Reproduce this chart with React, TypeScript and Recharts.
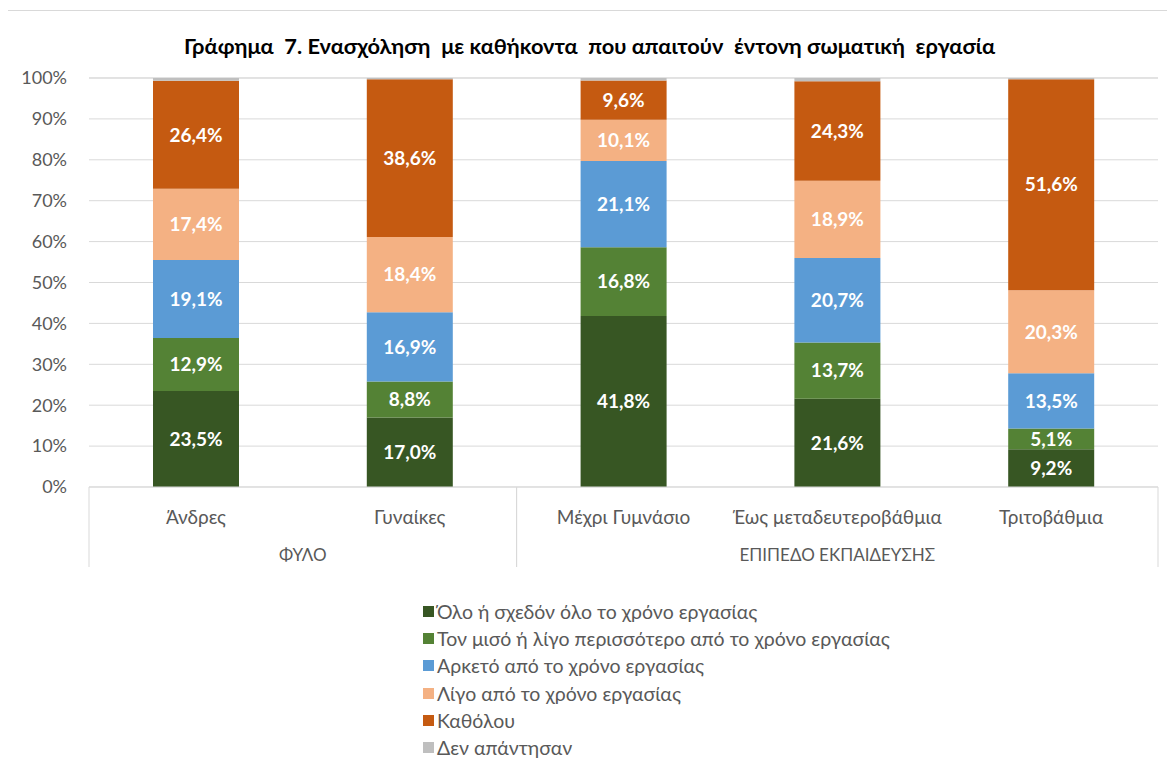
import { BarChart, Bar, XAxis, YAxis, CartesianGrid, Legend, LabelList } from 'recharts';

const categories = ['Άνδρες', 'Γυναίκες', 'Μέχρι Γυμνάσιο', 'Έως μεταδευτεροβάθμια', 'Τριτοβάθμια'];
const groups = ['ΦΥΛΟ', 'ΦΥΛΟ', 'ΕΠΙΠΕΔΟ ΕΚΠΑΙΔΕΥΣΗΣ', 'ΕΠΙΠΕΔΟ ΕΚΠΑΙΔΕΥΣΗΣ', 'ΕΠΙΠΕΔΟ ΕΚΠΑΙΔΕΥΣΗΣ'];

const allTime = [23.5, 17.0, 41.8, 21.6, 9.2];
const halfTime = [12.9, 8.8, 16.8, 13.7, 5.1];
const quiteTime = [19.1, 16.9, 21.1, 20.7, 13.5];
const littleTime = [17.4, 18.4, 10.1, 18.9, 20.3];
const never = [26.4, 38.6, 9.6, 24.3, 51.6];
const noAnswer = [0.7, 0.3, 0.6, 0.8, 0.3];

const yTicks = [0, 10, 20, 30, 40, 50, 60, 70, 80, 90, 100];

const series = [
  { key: 'allTime', name: 'Όλο ή σχεδόν όλο το χρόνο εργασίας', color: '#375623', values: allTime, label: true },
  { key: 'halfTime', name: 'Τον μισό ή λίγο περισσότερο από το χρόνο εργασίας', color: '#548235', values: halfTime, label: true },
  { key: 'quiteTime', name: 'Αρκετό από το χρόνο εργασίας', color: '#5B9BD5', values: quiteTime, label: true },
  { key: 'littleTime', name: 'Λίγο από το χρόνο εργασίας', color: '#F4B183', values: littleTime, label: true },
  { key: 'never', name: 'Καθόλου', color: '#C55A11', values: never, label: true },
  { key: 'noAnswer', name: 'Δεν απάντησαν', color: '#BFBFBF', values: noAnswer, label: false },
];

const data = categories.map((name, i) => {
  const row: Record<string, string | number> = { name };
  series.forEach((s) => (row[s.key] = s.values[i]));
  return row;
});

const FONT = 'Lato, "Noto Sans", sans-serif';
const CHART_W = 1163;
const CHART_H = 758;
const MARGIN = { top: 67, right: 13, bottom: 202, left: 21 };
const Y_W = 60;
const PLOT_W = CHART_W - MARGIN.left - MARGIN.right - Y_W;

const fmt = (v: number) => v.toFixed(1).replace('.', ',') + '%';

const CategoryTick = (props: any) => {
  const { x, y, payload, index } = props;
  const band = PLOT_W / categories.length;
  const g = groups[index];
  const first = index === 0 || groups[index - 1] !== g;
  const last = index === groups.length - 1 || groups[index + 1] !== g;
  const count = groups.filter((v) => v === g).length;
  const left = x - band / 2;
  return (
    <g>
      <text x={x} y={y + 37} textAnchor="middle" fill="#595959" fontSize={19} fontFamily={FONT}>
        {payload.value}
      </text>
      {first && <line x1={left} x2={left} y1={y} y2={y + 80} stroke="#d9d9d9" />}
      {last && <line x1={left + band} x2={left + band} y1={y} y2={y + 80} stroke="#d9d9d9" />}
      {first && (
        <text x={x + ((count - 1) * band) / 2} y={y + 74} textAnchor="middle" fill="#595959" fontSize={17} fontFamily={FONT}>
          {g}
        </text>
      )}
    </g>
  );
};

const LegendContent = () => (
  <div style={{ fontFamily: FONT, fontSize: 19.5, color: '#595959' }}>
    {series.map((s) => (
      <div key={s.key} style={{ display: 'flex', alignItems: 'center', height: 27.2, whiteSpace: 'nowrap' }}>
        <span style={{ display: 'inline-block', width: 11, height: 11, background: s.color, marginRight: 3 }} />
        {s.name}
      </div>
    ))}
  </div>
);

export default function App() {
  return (
    <div
      style={{
        position: 'relative',
        width: CHART_W,
        height: CHART_H,
        margin: '2px 0 0 -1px',
        border: '1px solid #d9d9d9',
        background: '#fff',
      }}
    >
      <div
        style={{
          position: 'absolute',
          top: 22,
          left: 0,
          width: '100%',
          textAlign: 'center',
          fontFamily: FONT,
          fontWeight: 700,
          fontSize: 21.8,
          lineHeight: '26px',
          color: '#000',
          whiteSpace: 'pre',
        }}
      >
        {'Γράφημα  7. Ενασχόληση  με καθήκοντα  που απαιτούν  έντονη σωματική  εργασία'}
      </div>
      <BarChart width={CHART_W} height={CHART_H} data={data} margin={MARGIN} barSize={86}>
        <CartesianGrid vertical={false} stroke="#d9d9d9" />
        <XAxis
          dataKey="name"
          interval={0}
          height={80}
          tickLine={false}
          tickSize={0}
          tickMargin={0}
          axisLine={{ stroke: '#d9d9d9' }}
          tick={<CategoryTick />}
        />
        <YAxis
          width={Y_W}
          domain={[0, 100]}
          ticks={yTicks}
          tickFormatter={(v: number) => `${v}%`}
          axisLine={false}
          tickLine={false}
          tickSize={0}
          tickMargin={22}
          tick={{ fill: '#595959', fontSize: 18, fontFamily: FONT }}
        />
        <Legend
          layout="vertical"
          align="center"
          verticalAlign="middle"
          content={<LegendContent />}
          wrapperStyle={{ top: 587, left: 415, width: 'auto' }}
        />
        {series.map((s) => (
          <Bar key={s.key} dataKey={s.key} name={s.name} stackId="a" fill={s.color} isAnimationActive={false}>
            {s.label && (
              <LabelList
                dataKey={s.key}
                position="center"
                formatter={(v: any) => fmt(Number(v))}
                fill="#fff"
                fontSize={19}
                fontWeight={700}
                fontFamily={FONT}
              />
            )}
          </Bar>
        ))}
      </BarChart>
    </div>
  );
}
